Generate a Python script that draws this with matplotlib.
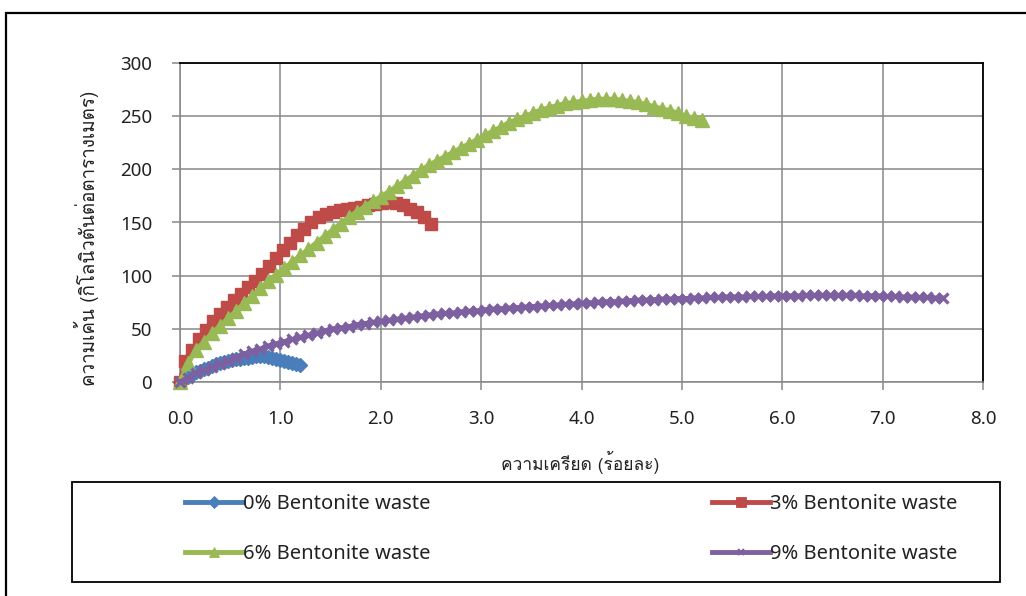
import matplotlib
matplotlib.use("Agg")
import matplotlib.pyplot as plt
from matplotlib import font_manager
from matplotlib.ft2font import FT2Font
from matplotlib.patches import Rectangle

# strain (%) and stress (kN/m2)
strain_0 = [0.00, 0.04, 0.08, 0.12, 0.16, 0.20, 0.24, 0.28, 0.32, 0.36, 0.40,
            0.44, 0.48, 0.52, 0.56, 0.60, 0.64, 0.68, 0.72, 0.76, 0.80, 0.84,
            0.88, 0.92, 0.96, 1.00, 1.04, 1.08, 1.12, 1.16, 1.20]
stress_0 = [0, 2.5, 5, 7, 9, 10.5, 12, 13.5, 15, 16.5, 17.5,
            18.5, 19.5, 20.5, 21.5, 22, 22.5, 23, 23.5, 24, 24, 24,
            23.5, 23, 22, 21, 20, 19, 18, 17, 16]

strain_3 = [0.00, 0.05, 0.12, 0.19, 0.26, 0.33, 0.40, 0.47, 0.54, 0.61, 0.68,
            0.75, 0.82, 0.89, 0.96, 1.03, 1.10, 1.17, 1.24, 1.31, 1.38, 1.45,
            1.52, 1.59, 1.66, 1.73, 1.80, 1.87, 1.94, 2.01, 2.08, 2.15, 2.22,
            2.29, 2.36, 2.43, 2.50]
stress_3 = [0, 20, 30, 40, 49, 57, 64, 71, 77, 83, 89,
            95, 102, 109, 117, 124, 131, 138, 144, 150, 155, 158,
            160, 162, 163, 164, 165, 166, 167, 168, 169, 168, 166,
            163, 160, 155, 149]

strain_6 = [0.00, 0.08, 0.16, 0.24, 0.32, 0.40, 0.48, 0.56, 0.64, 0.72, 0.80,
            0.88, 0.96, 1.04, 1.12, 1.20, 1.28, 1.36, 1.44, 1.52, 1.60, 1.68,
            1.76, 1.84, 1.92, 2.00, 2.08, 2.16, 2.24, 2.32, 2.40, 2.48, 2.56,
            2.64, 2.72, 2.80, 2.88, 2.96, 3.04, 3.12, 3.20, 3.28, 3.36, 3.44,
            3.52, 3.60, 3.68, 3.76, 3.84, 3.92, 4.00, 4.08, 4.16, 4.24, 4.32,
            4.40, 4.48, 4.56, 4.64, 4.72, 4.80, 4.88, 4.96, 5.04, 5.12, 5.20]
stress_6 = [0, 18, 30, 38, 46, 53, 60, 67, 74, 81, 88,
            95, 101, 107, 113, 119, 125, 131, 137, 143, 149, 155,
            160, 165, 170, 174, 179, 184, 189, 194, 199, 204, 208,
            212, 216, 220, 224, 228, 232, 236, 240, 244, 247, 250,
            253, 256, 258, 260, 262, 263, 264, 265, 266, 266, 266,
            265, 264, 263, 261, 259, 257, 255, 253, 250, 248, 246]

strain_9 = [0.00, 0.08, 0.16, 0.24, 0.32, 0.40, 0.48, 0.56, 0.64, 0.72, 0.80,
            0.88, 0.96, 1.04, 1.12, 1.20, 1.28, 1.36, 1.44, 1.52, 1.60, 1.68,
            1.76, 1.84, 1.92, 2.00, 2.08, 2.16, 2.24, 2.32, 2.40, 2.48, 2.56,
            2.64, 2.72, 2.80, 2.88, 2.96, 3.04, 3.12, 3.20, 3.28, 3.36, 3.44,
            3.52, 3.60, 3.68, 3.76, 3.84, 3.92, 4.00, 4.08, 4.16, 4.24, 4.32,
            4.40, 4.48, 4.56, 4.64, 4.72, 4.80, 4.88, 4.96, 5.04, 5.12, 5.20,
            5.28, 5.36, 5.44, 5.52, 5.60, 5.68, 5.76, 5.84, 5.92, 6.00, 6.08,
            6.16, 6.24, 6.32, 6.40, 6.48, 6.56, 6.64, 6.72, 6.80, 6.88, 6.96,
            7.04, 7.12, 7.20, 7.28, 7.36, 7.44, 7.52, 7.60]
stress_9 = [0, 4, 8, 11, 14, 17, 20, 23, 26, 29, 31,
            34, 36, 38, 40, 42, 44, 46, 48, 50, 51, 52,
            54, 55, 56, 57, 58, 59, 60, 61, 62, 63, 64,
            64.5, 65, 66, 66.5, 67, 68, 68.5, 69, 69.5, 70, 70.5,
            71, 71.5, 72, 72.5, 73, 73.5, 74, 74.5, 75, 75.5, 75.5,
            76, 76.5, 77, 77, 77.5, 78, 78, 78.5, 78.5, 79, 79,
            79.5, 79.5, 80, 80, 80, 80.5, 80.5, 80.5, 81, 81, 81,
            81, 81.5, 81.5, 81.5, 81.5, 81.5, 81.5, 81.5, 81, 81, 81,
            80.5, 80.5, 80, 80, 79.5, 79.5, 79, 79]

labels = ["0% Bentonite waste", "3% Bentonite waste",
          "6% Bentonite waste", "9% Bentonite waste"]
colors = ["#4A7EBB", "#BE4B48", "#98B954", "#7D60A0"]
x_ticks = [0.0, 1.0, 2.0, 3.0, 4.0, 5.0, 6.0, 7.0, 8.0]
y_ticks = [0, 50, 100, 150, 200, 250, 300]
x_title = "ความเครียด (ร้อยละ)"
y_title = "ความเค้น (กิโลนิวตันต่อตารางเมตร)"


def find_thai_font():
    # look for any installed font that actually carries Thai glyphs
    for fe in font_manager.fontManager.ttflist:
        try:
            if 0x0E04 in FT2Font(fe.fname).get_charmap():
                return fe.name
        except Exception:
            continue
    return None


thai = find_thai_font()
base_font = "Noto Sans"
fams = [thai, base_font, "DejaVu Sans"] if thai else [base_font, "DejaVu Sans"]
plt.rcParams["font.family"] = [base_font, "DejaVu Sans"]

fig = plt.figure(figsize=(10.26, 5.96), dpi=100)
ax = fig.add_axes([180 / 1026, 1 - 382 / 596, 803 / 1026, 319 / 596])

series = [
    (strain_0, stress_0, "D", 7.5, 1.0),
    (strain_3, stress_3, "s", 9.0, 1.0),
    (strain_6, stress_6, "^", 10.5, 1.0),
    (strain_9, stress_9, "x", 6.5, 2.4),
]
handles = []
for (xs, ys, mk, ms, mew), col, lab in zip(series, colors, labels):
    ln, = ax.plot(xs, ys, color=col, lw=3.5, marker=mk, markersize=ms,
                  markerfacecolor=col, markeredgecolor=col, markeredgewidth=mew,
                  label=lab, clip_on=False, zorder=3)
    handles.append(ln)

ax.set_xlim(0, 8)
ax.set_ylim(0, 300)
ax.set_xticks(x_ticks)
ax.set_yticks(y_ticks)
ax.set_xticklabels([f"{v:.1f}" for v in x_ticks])
ax.set_yticklabels([str(v) for v in y_ticks])
ax.grid(True, color="#878787", lw=1.1)
ax.set_axisbelow(True)
ax.tick_params(axis="both", direction="out", length=6, width=1.1,
               color="#878787", labelsize=13.5, pad=14, labelcolor="#222222")
for side in ["left", "bottom"]:
    ax.spines[side].set_color("#878787")
    ax.spines[side].set_linewidth(1.1)
for side in ["top", "right"]:
    ax.spines[side].set_color("black")
    ax.spines[side].set_linewidth(1.3)

fig.text(580 / 1026, 1 - 462 / 596, x_title, ha="center", va="center",
         fontsize=12.5, family=fams, color="#222222")
fig.text(86 / 1026, 1 - 238 / 596, y_title, ha="center", va="center",
         rotation=90, fontsize=13.5, family=fams, color="#222222")

# outer chart border (runs off the right and bottom of the picture)
fig.patches.append(Rectangle((6 / 1026, -0.1), 1.1, 1 - 13 / 596 + 0.1,
                             transform=fig.transFigure, fill=False,
                             edgecolor="black", lw=1.6))
# legend box
fig.patches.append(Rectangle((72 / 1026, 1 - 582 / 596), 928 / 1026, 100 / 596,
                             transform=fig.transFigure, fill=False,
                             edgecolor="black", lw=1.3))

legend_pos = [(185, 504), (712, 504), (185, 554), (712, 554)]
for h, lab, (px, py) in zip(handles, labels, legend_pos):
    proxy, = ax.plot([], [], color=h.get_color(), lw=3.5, marker=h.get_marker(),
                     markersize=h.get_markersize() * 0.75,
                     markeredgewidth=h.get_markeredgewidth() * 0.6,
                     markerfacecolor=h.get_color(), markeredgecolor=h.get_color())
    leg = fig.legend([proxy], [lab], loc="center left",
                     bbox_to_anchor=(px / 1026, 1 - py / 596), frameon=False,
                     fontsize=14.5, handlelength=2.9, handletextpad=0.0,
                     borderpad=0, borderaxespad=0)
    for t in leg.get_texts():
        t.set_color("#222222")

fig.savefig("out.png", dpi=100)
